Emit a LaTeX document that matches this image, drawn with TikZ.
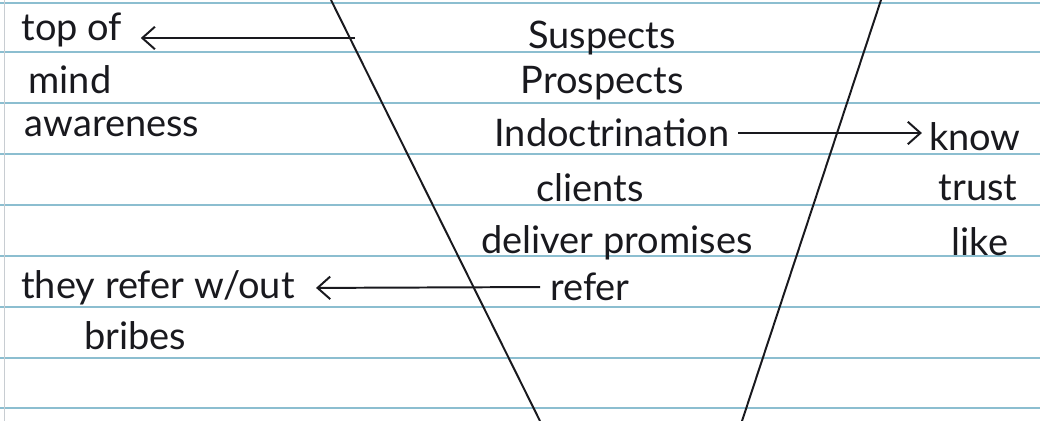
\documentclass[tikz,border=0pt]{standalone}
\usepackage{fontspec}
\setmainfont{Lato}
\usepackage{tikz}
\usetikzlibrary{arrows.meta, positioning, calc}
\usepackage{xcolor}
\definecolor{ruled}{RGB}{140,190,208}
\definecolor{margin}{RGB}{200,205,210}
\definecolor{ink}{RGB}{25,25,30}

\begin{document}
\begin{tikzpicture}[x=0.025cm, y=-0.025cm,
    note/.style={font=\fontsize{27}{30}\selectfont, text=ink, inner sep=1pt},
    pen/.style={ink, line width=1.4pt},
    penarrow/.style={pen, -{Straight Barb[length=9pt,width=16pt]}}]
  \useasboundingbox (0,0) rectangle (1040,421);
  \fill[white] (0,0) rectangle (1040,421);
  % ruled paper
  \foreach \y in {3,52,103,154,205,256,307,358,408}
    \draw[ruled, line width=1.1pt] (0,\y) -- (1040,\y);
  \draw[margin, line width=0.6pt] (4,0) -- (4,421);
  % funnel sides
  \draw[pen] (331,0) -- (540,421);
  \draw[pen] (881,0) -- (742,421);
  % left side notes
  \node[note] (topof) at (72,30) {top of};
  \node[note] (mind) at (70,80) {mind};
  \node[note] (awareness) at (112,127) {awareness};
  \node[note] (theyrefer) at (158,288) {they refer w/out};
  \node[note] (bribes) at (135,336) {bribes};
  % inside the funnel
  \node[note] (suspects) at (602,38) {Suspects};
  \node[note] (prospects) at (602,83) {Prospects};
  \node[note] (indoc) at (612,133) {Indoctrination};
  \node[note] (clients) at (590,188) {clients};
  \node[note] (deliver) at (617,243) {deliver promises};
  \node[note] (refer) at (590,287) {refer};
  % right side notes
  \node[note] (know) at (975,137) {know};
  \node[note] (trust) at (978,188) {trust};
  \node[note] (like) at (980,242) {like};
  % arrows
  \coordinate (topstart) at (355,38);
  \draw[penarrow, shorten >=12pt] (topstart) -- (topof.east |- topstart);
  \draw[penarrow, shorten <=5pt, shorten >=4pt] (indoc.east) -- (indoc.east -| know.west);
  \draw[penarrow, shorten <=6pt, shorten >=14pt] (refer.west) -- (theyrefer.east);
\end{tikzpicture}
\end{document}
